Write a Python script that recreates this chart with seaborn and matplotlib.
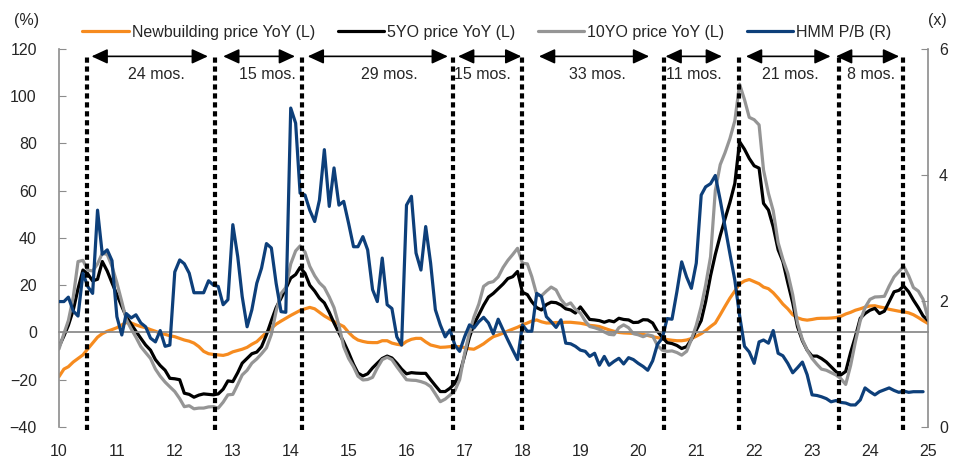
import pandas as pd
import matplotlib
matplotlib.use("Agg")
import matplotlib.pyplot as plt
import matplotlib.dates as mdates
from matplotlib import font_manager
import seaborn as sns

# monthly data, Jan 2010 - Jan 2025
months = pd.date_range("2010-01-01", periods=181, freq="MS")

newbuild_yoy = [
    -18.7, -15.5, -14.5, -12.5, -11, -9.5, -7, -4.5, -2, -0.5,
    0.5, 1.2, 2, 3.2, 4.2, 4, 3.2, 2.5, 2, 1.2,
    0.5, -0.3, -0.8, -1.4, -1.8, -2.5, -3.2, -3.7, -4.5, -6,
    -8, -9, -9.3, -9.5, -9.7, -9.2, -8.2, -7.6, -7.1, -6.3,
    -5, -3.9, -2, 0, 1.8, 3.5, 4.8, 6, 7.2, 8.3,
    9.3, 10, 10.6, 10, 8.5, 7, 5.8, 4.6, 3.5, 2.5,
    0, -2, -3.2, -3.8, -4.2, -4.3, -4.3, -3.5, -3.5, -4.5,
    -5, -5.3, -3.8, -2.9, -2.5, -2.5, -4, -5.3, -5.8, -6.3,
    -6.2, -6, -6, -6, -6.4, -6.9, -7.1, -6, -4.8, -3.2,
    -1.8, -1.1, -0.3, 0.6, 1.4, 2.2, 3.2, 4, 4.8, 5.3,
    4.5, 4, 4, 4.2, 4.2, 4.3, 4.3, 4.1, 3.9, 3.5,
    3, 2.8, 2.5, 1.8, 1.1, 0.5, 0, -0.2, -0.3, -0.4,
    -0.6, -0.8, -1.3, -1.8, -2.2, -2.6, -3, -3.3, -3.5, -3.5,
    -3.2, -2.6, -1.6, -0.5, 0.8, 2.5, 4, 7.5, 11, 14.5,
    17.5, 20.5, 21.8, 22.4, 21.5, 20.6, 19.2, 18.5, 16.8, 14.5,
    12, 10, 7.5, 6.2, 5.5, 5.2, 5.5, 5.9, 6, 6,
    6.1, 6.3, 6.8, 7.8, 8.5, 9.4, 10, 10.7, 11.2, 11.3,
    10.8, 10.4, 9.8, 9.4, 9, 8.7, 8.3, 7.5, 6.3, 5, 3.8,
]

yo5_yoy = [
    -6, -1.5, 3, 9.5, 18.5, 26.4, 24.8, 21.8, 22.5, 30,
    26, 21, 16, 11, 6.7, 3.5, 0.5, -2.5, -5.3, -7.5,
    -11.5, -14, -16, -19.4, -19.6, -20, -25.7, -26.2, -27.4, -26.5,
    -26, -26.2, -26.4, -26, -24, -20.5, -20.8, -17, -13, -11,
    -9, -8.3, -6, -1, 5, 10.5, 14.5, 18.5, 23, 24.5,
    27.5, 25, 20, 17.5, 14.5, 12.5, 8.5, 4, -0.2, -4,
    -8.5, -13.5, -17.2, -18.4, -17.5, -15, -13, -11, -10, -10.8,
    -13, -15.5, -17.5, -17, -17.2, -17.3, -17.3, -20, -22.5, -25,
    -25, -23.6, -21.5, -17.5, -10, -2, 3.5, 7.5, 11.5, 15,
    16.5, 18.5, 20.5, 22.8, 23.6, 25.8, 17, 16, 13, 10.5,
    9.5, 11.8, 12.8, 12.6, 11.6, 10, 9.5, 8.2, 10.8, 8,
    5.5, 5.3, 5, 4.3, 5, 4.5, 6, 5.5, 5.3, 4.2,
    4.3, 5.4, 5.3, 4, 0.5, -2, -4.3, -4.7, -5.5, -6.8,
    -6, -3, 1, 5, 13, 24, 33, 41, 48, 55,
    63, 80.7, 77.5, 73.6, 70.5, 69.5, 54.6, 51.8, 44.7, 35,
    30, 21, 12.5, 2.5, -3.5, -7.5, -10, -10, -11, -12.5,
    -14.5, -16.6, -18, -16.5, -8.5, -1.8, 6, 8, 9.4, 10.2,
    8, 9, 13, 17.2, 17.8, 19.6, 17.2, 13.7, 10.5, 7, 5,
]

yo10_yoy = [
    -7, -0.5, 5, 15, 30, 30.5, 26.4, 26, 29, 33.5,
    33, 28, 21, 13, 5.5, 1.5, -2, -6, -8.5, -11,
    -15.5, -18.5, -21, -23, -25, -28, -31.4, -31, -32.3, -32,
    -32, -31.5, -31.4, -32, -29.5, -26.4, -26.2, -22, -18, -16,
    -13, -11.2, -9, -6.5, -0.8, 9, 16.5, 19, 29, 34.5,
    36.6, 34, 28, 24, 21, 19, 15, 10.5, 3, -6,
    -11, -14.5, -18.5, -20.1, -19.9, -19, -15, -11.5, -10.5, -11.5,
    -14.5, -17.2, -20, -20.2, -20.3, -20.8, -21.5, -22.9, -26, -29.3,
    -28.2, -26.5, -24.6, -20, -9, 0, 6.5, 12, 19.5, 21,
    21.5, 23.5, 27.5, 30.5, 33, 35.6, 29.3, 29, 23.6, 16,
    15.5, 17.5, 19.2, 18, 14, 11.5, 12.5, 9.8, 8.2, 4.8,
    2.5, 2, 1.3, 0.2, -0.8, -1, 2, 3.2, 2, -0.5,
    -1, -1.8, -1, -1.5, -5.5, -7.5, -8, -7.8, -8.5, -9.6,
    -8, -3, 3, 11, 20, 32, 60, 71, 76, 82,
    89.5, 105, 98.5, 91, 90, 87.8, 68.7, 58.8, 51.5, 38,
    31, 25, 16, 4, -3, -7.5, -11, -13.5, -15.5, -16,
    -17, -18, -19.5, -22, -14, -4, 5, 10.5, 14, 15,
    15.1, 15.3, 19.6, 23.5, 25.7, 28, 24, 19, 17.5, 14, 6,
]

# HMM P/B, Jan 2010 - Dec 2024
hmm_pb = [
    1.99, 1.99, 2.06, 1.84, 1.76, 2.44, 2.23, 2.12, 3.44, 2.74,
    2.81, 2.64, 1.75, 1.46, 1.80, 1.73, 1.78, 1.65, 1.59, 1.41,
    1.35, 1.53, 1.28, 1.30, 2.46, 2.65, 2.59, 2.44, 2.13, 2.13,
    2.13, 2.32, 2.25, 2.23, 1.94, 2.02, 3.21, 2.70, 2.07, 1.59,
    1.86, 2.28, 2.52, 2.91, 2.84, 2.28, 1.83, 1.82, 5.06, 4.82,
    3.71, 3.68, 3.44, 3.26, 3.60, 4.40, 3.50, 4.11, 3.52, 3.58,
    3.23, 2.86, 2.86, 3.02, 2.81, 2.18, 1.99, 2.68, 1.94, 1.88,
    1.43, 1.30, 3.52, 3.66, 2.76, 2.49, 3.18, 2.60, 1.86, 1.62,
    1.43, 1.54, 1.30, 1.20, 1.43, 1.62, 1.57, 1.67, 1.74, 1.65,
    1.48, 1.71, 1.54, 1.38, 1.22, 1.07, 1.62, 1.52, 1.52, 2.12,
    2.07, 1.75, 1.67, 1.58, 1.70, 1.33, 1.32, 1.28, 1.22, 1.20,
    1.12, 1.17, 0.98, 1.12, 0.98, 1.04, 1.09, 1.00, 1.10, 1.07,
    1.01, 0.96, 0.90, 1.05, 1.31, 1.41, 1.72, 1.71, 2.15, 2.62,
    2.38, 2.20, 2.60, 3.68, 3.81, 3.86, 3.99, 3.60, 3.18, 2.75,
    2.33, 1.77, 1.28, 1.19, 1.01, 1.35, 1.38, 1.33, 1.53, 1.17,
    1.13, 1.01, 0.86, 0.94, 1.03, 0.83, 0.51, 0.50, 0.48, 0.45,
    0.40, 0.42, 0.39, 0.38, 0.35, 0.35, 0.43, 0.62, 0.56, 0.51,
    0.56, 0.59, 0.62, 0.58, 0.55, 0.57, 0.55, 0.56, 0.56, 0.56,
]

cycle_dates = pd.to_datetime([
    "2010-06-28", "2012-09-10", "2014-03-10", "2016-10-22", "2018-01-01",
    "2020-06-13", "2021-09-28", "2023-06-22", "2024-07-25",
])
span_start = pd.to_datetime([
    "2010-07-25", "2012-11-01", "2014-04-18", "2016-11-21",
    "2018-04-15", "2020-06-21", "2021-11-10", "2023-06-01",
])
span_end = pd.to_datetime([
    "2012-07-28", "2014-01-28", "2016-09-18", "2017-12-25",
    "2020-03-10", "2021-06-12", "2023-04-28", "2024-07-03",
])
span_text_x = pd.to_datetime([
    "2011-09-06", "2013-08-10", "2015-09-12", "2017-04-25",
    "2019-04-21", "2020-12-18", "2022-08-18", "2024-01-07",
])
span_labels = ["24 mos.", "15 mos.", "29 mos.", "15 mos.",
               "33 mos.", "11 mos.", "21 mos.", "8 mos."]

sns.set_style("white")
available = {f.name for f in font_manager.fontManager.ttflist}
if "Liberation Sans Narrow" in available:
    plt.rcParams["font.family"] = ["Liberation Sans Narrow", "DejaVu Sans"]
    fs = 13
else:
    plt.rcParams["font.family"] = ["Liberation Sans", "DejaVu Sans"]
    fs = 11.5

ORANGE = "#F68B1F"
GREY = "#959595"
NAVY = "#0D3F7A"
AXIS = "#8C8C8C"

fig = plt.figure(figsize=(9.68, 4.65), dpi=100)
ax = fig.add_axes([59 / 968, 1 - 427 / 465, 869 / 968, 378.2 / 465])
ax2 = ax.twinx()

sns.lineplot(x=months, y=newbuild_yoy, ax=ax, color=ORANGE, lw=2.3,
             label="Newbuilding price YoY (L)")
sns.lineplot(x=months, y=yo5_yoy, ax=ax, color="black", lw=2.3,
             label="5YO price YoY (L)")
sns.lineplot(x=months, y=yo10_yoy, ax=ax, color=GREY, lw=2.3,
             label="10YO price YoY (L)")
sns.lineplot(x=months[:len(hmm_pb)], y=hmm_pb, ax=ax2, color=NAVY, lw=2.3,
             label="HMM P/B (R)")

h1, l1 = ax.get_legend_handles_labels()
h2, l2 = ax2.get_legend_handles_labels()
for a in (ax, ax2):
    if a.get_legend() is not None:
        a.get_legend().remove()

ax.set_xlim(months[0], months[-1])
ax.set_ylim(-40, 120)
ax2.set_ylim(0, 6)
ax.set_yticks(range(-40, 121, 20))
ax2.set_yticks([0, 2, 4, 6])
ax.set_xlabel("")
ax.set_ylabel("")
ax2.set_ylabel("")

# x axis sits on the zero line with small upward ticks
ax.spines["bottom"].set_position(("data", 0))
ax.spines["bottom"].set_color(AXIS)
ax.spines["bottom"].set_linewidth(1.3)
ax.xaxis.set_major_locator(mdates.YearLocator())
ax.tick_params(axis="x", direction="in", length=5, color=AXIS, labelbottom=False)
ax.tick_params(axis="y", direction="in", length=5, color=AXIS, pad=16, labelsize=fs)
ax2.tick_params(axis="y", direction="in", length=5, color=AXIS, pad=8, labelsize=fs)

for s in ("top", "right"):
    ax.spines[s].set_visible(False)
for s in ("top", "left", "bottom"):
    ax2.spines[s].set_visible(False)
ax.spines["left"].set_color(AXIS)
ax2.spines["right"].set_color(AXIS)
ax.spines["left"].set_linewidth(1.2)
ax2.spines["right"].set_linewidth(1.2)

# year labels at the bottom of the plot area
sec = ax.secondary_xaxis(0.0)
sec.xaxis.set_major_locator(mdates.YearLocator())
sec.xaxis.set_major_formatter(mdates.DateFormatter("%y"))
sec.tick_params(length=0, pad=12, labelsize=fs)
sec.spines["bottom"].set_visible(False)

# cycle markers
xt = ax2.get_xaxis_transform()
for d in cycle_dates:
    ax2.axvline(d, ymin=-0.008, ymax=0.984, color="black", lw=3,
                ls=(0, (1.25, 0.9)), clip_on=False, zorder=6)
for s, e, tx, lab in zip(span_start, span_end, span_text_x, span_labels):
    ax2.annotate("", xy=(e, 0.98), xytext=(s, 0.98),
                 xycoords=("data", "axes fraction"),
                 textcoords=("data", "axes fraction"),
                 arrowprops=dict(arrowstyle="<|-|>,head_length=0.65,head_width=0.3",
                                 color="black", lw=1.2, mutation_scale=15,
                                 shrinkA=0, shrinkB=0),
                 annotation_clip=False)
    ax2.text(tx, 0.931, lab, transform=xt, ha="center", va="center", fontsize=fs)

fig.legend(h1 + h2, l1 + l2, loc="center", bbox_to_anchor=(0.503, 0.931),
           ncol=4, frameon=False, handlelength=2.9, handletextpad=0.2,
           columnspacing=1.4, fontsize=fs)
fig.text(27 / 968, 1 - 20 / 465, "(%)", ha="center", va="center", fontsize=fs)
fig.text(937 / 968, 1 - 20 / 465, "(x)", ha="center", va="center", fontsize=fs)

fig.savefig("out.png", dpi=100)
